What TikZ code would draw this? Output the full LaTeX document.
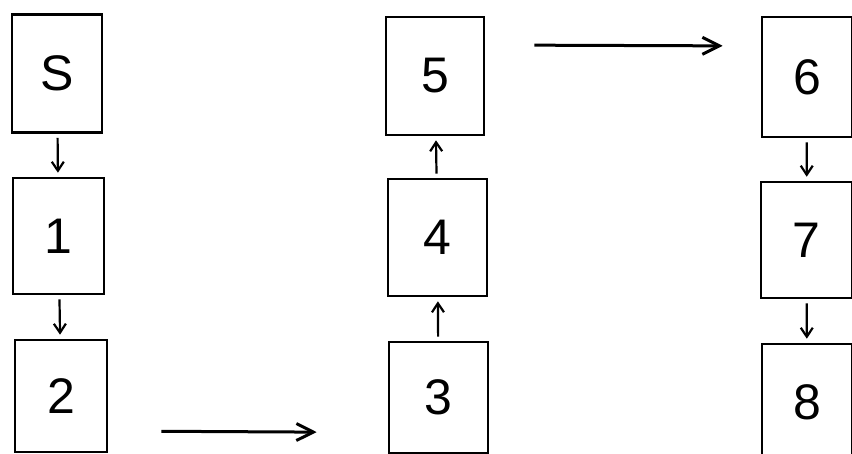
\documentclass[tikz,border=0pt]{standalone}
\usepackage{fontspec}
\setmainfont{Liberation Sans}
\usetikzlibrary{arrows.meta}
\tikzset{
  box/.style={draw, line width=2.6pt, minimum width=90pt, minimum height=118pt, inner sep=0pt, font=\fontsize{50}{50}\selectfont},
  step arrow/.style={line width=2.2pt, -{Straight Barb[length=9pt,width=12pt]}, shorten <=4pt, shorten >=4pt},
  long arrow/.style={line width=3pt, -{Straight Barb[length=17pt,width=17pt]}}
}
\begin{document}
\begin{tikzpicture}[x=1pt, y=-1pt]
			\useasboundingbox (0,0) rectangle (852,454);
			\node[box] (nS) at (57,73.5) {S};
			\node[box, minimum width=91pt, minimum height=116pt] (n1) at (58.5,236) {1};
			\node[box, minimum width=92pt, minimum height=112pt] (n2) at (61,396) {2};
			\node[box, minimum width=98pt] (n5) at (435,76) {5};
			\node[box, minimum width=99pt, minimum height=117pt] (n4) at (437.5,237.5) {4};
			\node[box, minimum width=99pt, minimum height=111pt] (n3) at (438.5,397.5) {3};
			\node[box, minimum width=90pt, minimum height=120pt] (n6) at (807,77) {6};
			\node[box, minimum width=91pt, minimum height=116pt] (n7) at (806.5,240) {7};
			\node[box, minimum width=90pt, minimum height=116pt] (n8) at (807,402) {8};
			\draw[step arrow] (nS) -- (n1);
			\draw[step arrow] (n1) -- (n2);
			\draw[step arrow] (n3) -- (n4);
			\draw[step arrow] (n4) -- (n5);
			\draw[step arrow] (n6) -- (n7);
			\draw[step arrow] (n7) -- (n8);
			\draw[long arrow, shorten <=53pt, shorten >=71pt] ([yshift=-35pt]n2.east) -- ([yshift=-35pt]n3.west);
			\draw[long arrow, shorten <=49pt, shorten >=38pt] ([yshift=31pt]n5.east) -- ([yshift=31pt]n6.west);
		\end{tikzpicture}
\end{document}
